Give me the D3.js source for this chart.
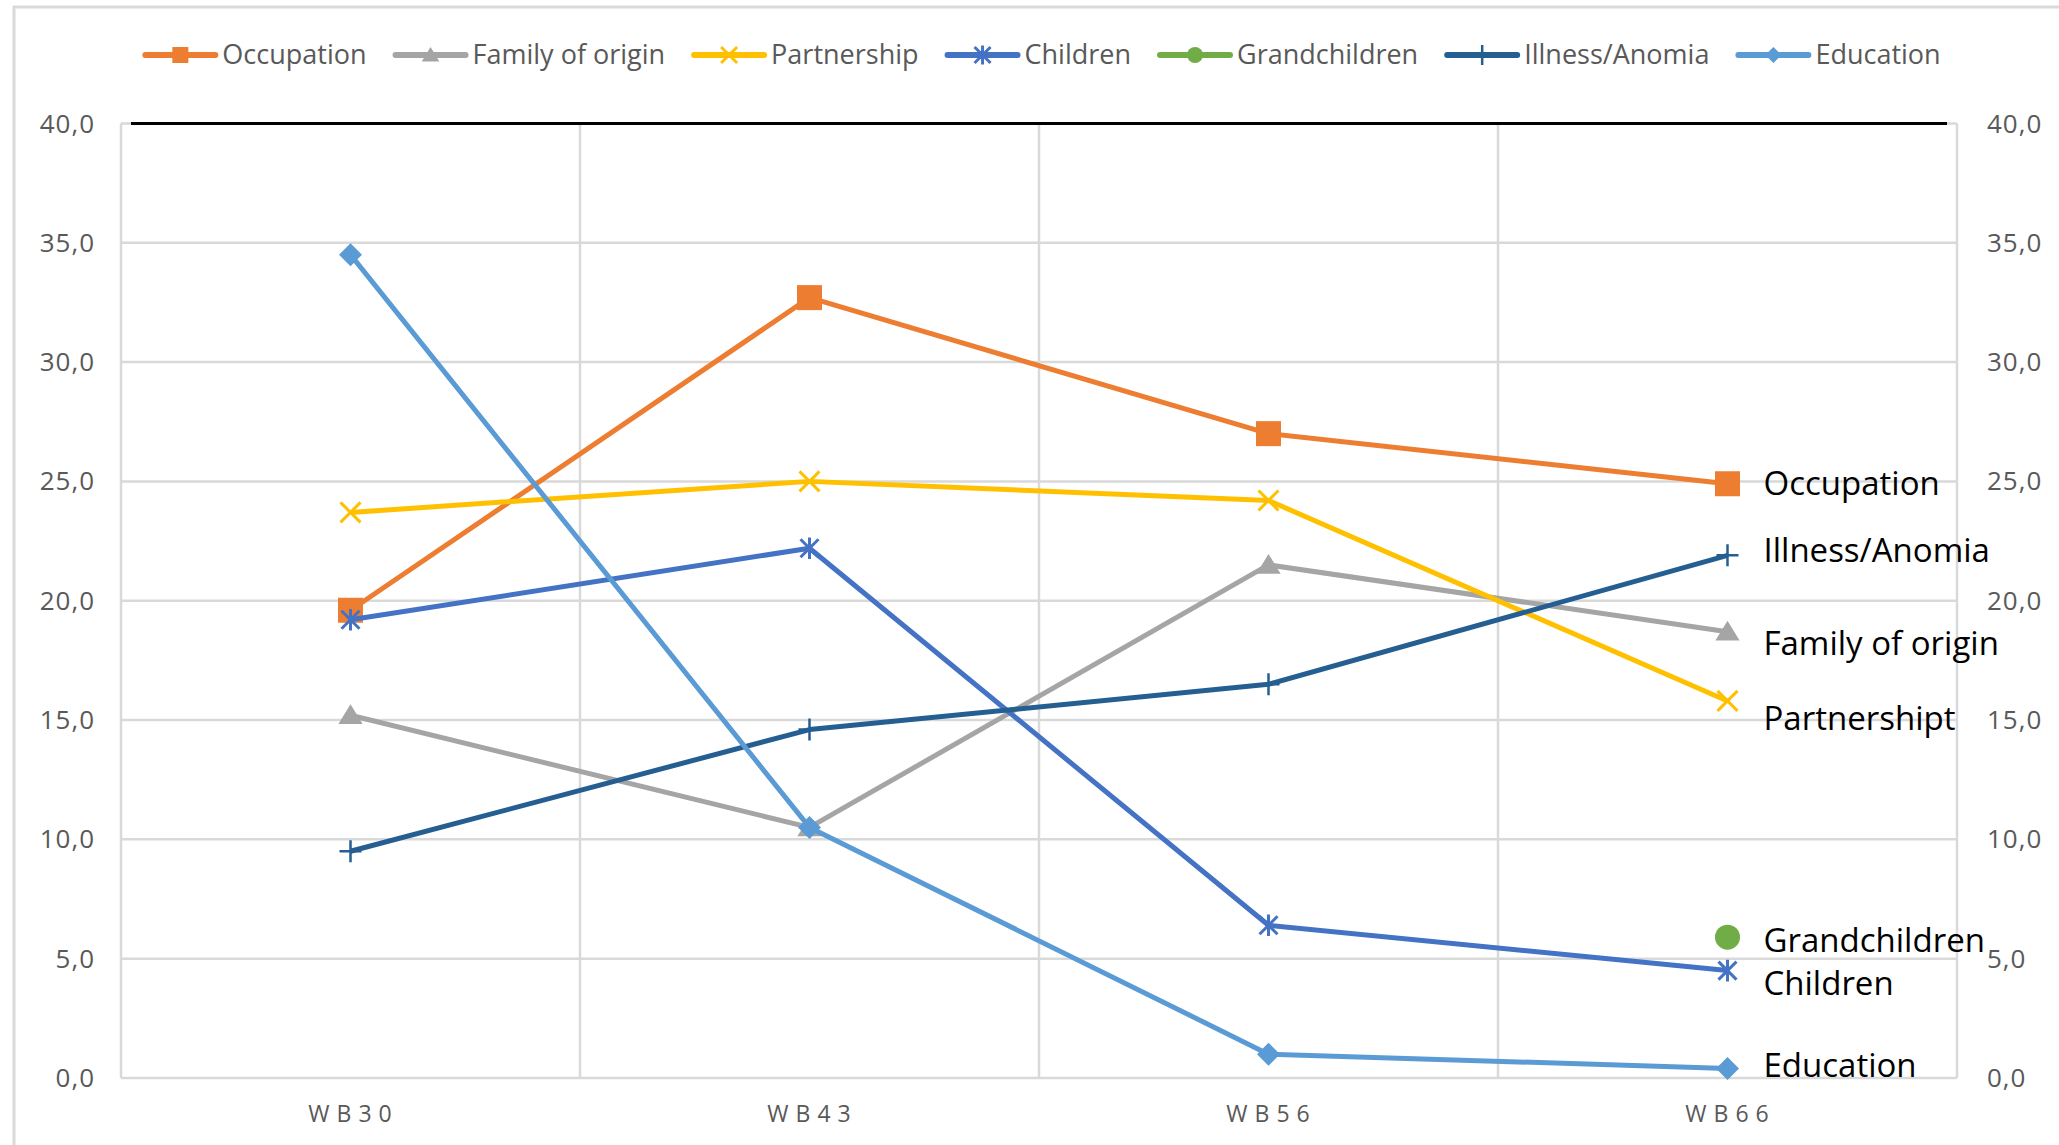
<!DOCTYPE html>
<html>
<head>
<meta charset="utf-8">
<script src="https://cdn.jsdelivr.net/npm/d3@7"></script>
<style>
    body { margin: 0; background: #fff; }
    svg { display: block; }
</style>
</head>
<body>
<div id="chart"></div>
<script>
// Data
const waves = ["WB30", "WB43", "WB56", "WB66"];
const seriesNames = ["Occupation", "Family of origin", "Partnership", "Children", "Grandchildren", "Illness/Anomia", "Education"];
const occupation = [19.6, 32.7, 27.0, 24.9];
const familyOfOrigin = [15.2, 10.5, 21.5, 18.7];
const partnership = [23.7, 25.0, 24.2, 15.8];
const children = [19.2, 22.2, 6.4, 4.5];
const grandchildren = [null, null, null, 5.9];
const illness = [9.5, 14.6, 16.5, 21.9];
const education = [34.5, 10.5, 1.0, 0.4];
const endLabels = ["Occupation", "Family of origin", "Partnershipt", "Children", "Grandchildren", "Illness/Anomia", "Education"];
const yTicks = [0, 5, 10, 15, 20, 25, 30, 35, 40];

const seriesValues = [occupation, familyOfOrigin, partnership, children, grandchildren, illness, education];
const colors = ["#ED7D31", "#A5A5A5", "#FFC000", "#4472C4", "#70AD47", "#255E91", "#5B9BD5"];
const markers = ["square", "triangle", "x", "star", "circle", "plus", "diamond"];
const labelShift = [0, 12, 18, 13, 3, -5, -3]; // nudge end labels so they don't collide

const W = 2059, H = 1145;
const plot = { left: 121, right: 1957, top: 123.4, bottom: 1078 };

const svg = d3.select("#chart").append("svg")
    .attr("width", W)
    .attr("height", H);

// outer frame
svg.append("rect")
    .attr("x", 14).attr("y", 7)
    .attr("width", W).attr("height", H)
    .attr("fill", "none")
    .attr("stroke", "#d9d9d9")
    .attr("stroke-width", 3);

const x = d3.scaleBand().domain(waves).range([plot.left, plot.right]).paddingInner(0).paddingOuter(0);
const y = d3.scaleLinear().domain([0, 40]).range([plot.bottom, plot.top]);
const cx = d => x(d) + x.bandwidth() / 2;

// gridlines
svg.append("g").selectAll("line")
    .data(yTicks)
    .enter().append("line")
    .attr("x1", plot.left).attr("x2", plot.right)
    .attr("y1", d => y(d)).attr("y2", d => y(d))
    .attr("stroke", "#d9d9d9")
    .attr("stroke-width", 2.5);

const bounds = waves.map(d => x(d)).concat([plot.right]);
svg.append("g").selectAll("line")
    .data(bounds)
    .enter().append("line")
    .attr("x1", d => d).attr("x2", d => d)
    .attr("y1", plot.top).attr("y2", plot.bottom)
    .attr("stroke", "#d9d9d9")
    .attr("stroke-width", 2.5);

// black line on top at 40
svg.append("line")
    .attr("x1", plot.left + 10).attr("x2", plot.right - 10)
    .attr("y1", y(40)).attr("y2", y(40))
    .attr("stroke", "#000")
    .attr("stroke-width", 3);

// y labels both sides
const fmt = d => d.toFixed(1).replace(".", ",");
svg.append("g").selectAll("text")
    .data(yTicks)
    .enter().append("text")
    .attr("x", 95).attr("y", d => y(d))
    .attr("dy", "0.35em")
    .attr("text-anchor", "end")
    .style("font-family", "Open Sans")
    .style("font-size", "26px")
    .style("letter-spacing", "1px")
    .attr("fill", "#595959")
    .text(fmt);

svg.append("g").selectAll("text")
    .data(yTicks)
    .enter().append("text")
    .attr("x", 1987).attr("y", d => y(d))
    .attr("dy", "0.35em")
    .style("font-family", "Open Sans")
    .style("font-size", "26px")
    .style("letter-spacing", "1px")
    .attr("fill", "#595959")
    .text(fmt);

// x labels
svg.append("g").selectAll("text")
    .data(waves)
    .enter().append("text")
    .attr("x", d => cx(d) + 3).attr("y", 1114)
    .attr("dy", "0.35em")
    .attr("text-anchor", "middle")
    .style("font-family", "Open Sans")
    .style("font-size", "23px")
    .style("letter-spacing", "7px")
    .attr("fill", "#595959")
    .text(d => d);

function drawMarker(g, type, color, s) {
    if (type === "square") {
        g.append("rect").attr("x", -s).attr("y", -s).attr("width", 2 * s).attr("height", 2 * s).attr("fill", color);
    } else if (type === "triangle") {
        g.append("path").attr("d", `M0,${-s}L${s * 1.1},${s * 0.8}L${-s * 1.1},${s * 0.8}Z`).attr("fill", color);
    } else if (type === "diamond") {
        g.append("path").attr("d", `M0,${-s}L${s},0L0,${s}L${-s},0Z`).attr("fill", color);
    } else if (type === "circle") {
        g.append("circle").attr("r", s).attr("fill", color);
    } else if (type === "x") {
        g.append("path").attr("d", `M${-s},${-s}L${s},${s}M${-s},${s}L${s},${-s}`)
            .attr("stroke", color).attr("stroke-width", 3).attr("fill", "none");
    } else if (type === "star") {
        g.append("path").attr("d", `M${-s},${-s}L${s},${s}M${-s},${s}L${s},${-s}M0,${-s * 1.2}L0,${s * 1.2}`)
            .attr("stroke", color).attr("stroke-width", 3).attr("fill", "none");
    } else if (type === "plus") {
        g.append("path").attr("d", `M${-s},0L${s},0M0,${-s}L0,${s}`)
            .attr("stroke", color).attr("stroke-width", 2.5).attr("fill", "none");
    }
}
const markerSize = { square: 12.5, triangle: 11, diamond: 11.5, circle: 12.5, x: 10, star: 9, plus: 11 };

// series
const line = d3.line()
    .defined(d => d.v !== null)
    .x(d => cx(d.w))
    .y(d => y(d.v));

seriesNames.forEach((name, i) => {
    const pts = waves.map((w, j) => ({ w: w, v: seriesValues[i][j] }));
    const g = svg.append("g");
    g.append("path")
        .datum(pts)
        .attr("d", line)
        .attr("fill", "none")
        .attr("stroke", colors[i])
        .attr("stroke-width", 5)
        .attr("stroke-linejoin", "round");
    pts.filter(d => d.v !== null).forEach(d => {
        const m = g.append("g").attr("transform", `translate(${cx(d.w)},${y(d.v)})`);
        drawMarker(m, markers[i], colors[i], markerSize[markers[i]]);
    });
});

// end labels next to WB66
const last = waves[waves.length - 1];
svg.append("g").selectAll("text")
    .data(seriesNames)
    .enter().append("text")
    .attr("x", cx(last) + 36)
    .attr("y", (d, i) => y(seriesValues[i][3]) + labelShift[i])
    .attr("dy", "0.35em")
    .style("font-family", "Open Sans")
    .style("font-size", "33px")
    .attr("fill", "#000")
    .text((d, i) => endLabels[i]);

// legend
const legend = svg.append("g");
let lx = 0;
seriesNames.forEach((name, i) => {
    const item = legend.append("g").attr("transform", `translate(${lx},0)`);
    item.append("line")
        .attr("x1", 0).attr("x2", 70)
        .attr("stroke", colors[i])
        .attr("stroke-width", 6)
        .attr("stroke-linecap", "round");
    const m = item.append("g").attr("transform", "translate(35,0)");
    drawMarker(m, markers[i], colors[i], markers[i] === "plus" ? 10 : 8);
    const t = item.append("text")
        .attr("x", 77)
        .attr("dy", "0.35em")
        .style("font-family", "Open Sans")
        .style("font-size", "27px")
        .attr("fill", "#595959")
        .text(name);
    lx += 77 + t.node().getComputedTextLength() + 29;
});
const legendWidth = lx - 29;
legend.attr("transform", `translate(${1043 - legendWidth / 2},55)`);
</script>
</body>
</html>
